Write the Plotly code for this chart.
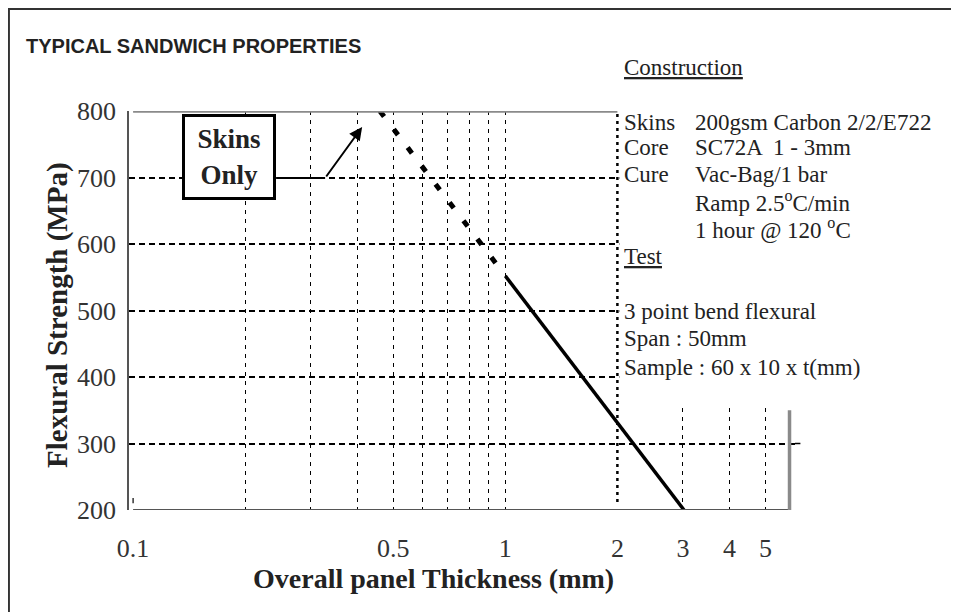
import math
import plotly.graph_objects as go

# ---------------- data ----------------
thickness_dotted = [0.46, 0.97]      # mm (skins only extrapolation)
strength_dotted = [800, 562]         # MPa
thickness_solid = [1.0, 3.02]        # mm
strength_solid = [552, 200]          # MPa

x_tick_vals = [0.1, 0.5, 1, 2, 3, 4, 5]
x_tick_text = ["0.1", "0.5", "1", "2", "3", "4", "5"]
x_grid_vals = [0.2, 0.3, 0.4, 0.5, 0.6, 0.7, 0.8, 0.9, 1, 3, 4, 5, 6]
y_tick_vals = [200, 300, 400, 500, 600, 700, 800]
y_tick_text = ["200", "300", "400", "500", "600", "700", "800"]

construction_labels = ["Skins", "Core", "Cure", "", ""]
construction_values = ["200gsm Carbon 2/2/E722", "SC72A  1 - 3mm", "Vac-Bag/1 bar",
                       "Ramp 2.5<sup>o</sup>C/min", "1 hour @ 120 <sup>o</sup>C"]
test_lines = ["3 point bend flexural", "Span : 50mm", "Sample : 60 x 10 x t(mm)"]

# ---------------- layout geometry (window pixels) ----------------
OFF = 8                      # page body margin offset
W, H = 959 - OFF, 612 - OFF
L, T = 129, 111              # plot-area top-left in window pixels
PW, PH = 665.6, 399
ML, MT = L - OFF, T - OFF
MR = W - ML - PW
MB = H - MT - PH


def px(xp):
    return (xp - L) / PW


def py(yp):
    return (T + PH - yp) / PH


SERIF = "Liberation Serif, Times New Roman, serif"
SANS = "Liberation Sans, Arial, sans-serif"
INK = "#222222"
XRANGE = [math.log10(0.0975), math.log10(6.0)]

fig = go.Figure()
fig.add_trace(go.Scatter(x=thickness_dotted, y=strength_dotted, mode="lines",
                         line=dict(color="black", width=5, dash="7px,16px"),
                         showlegend=False, hoverinfo="skip"))
fig.add_trace(go.Scatter(x=thickness_solid, y=strength_solid, mode="lines",
                         line=dict(color="black", width=3.5),
                         showlegend=False, hoverinfo="skip", cliponaxis=False))
# invisible companion trace so the grid-only overlay axis is drawn
fig.add_trace(go.Scatter(x=thickness_solid, y=strength_solid, xaxis="x2", yaxis="y",
                         mode="markers", marker=dict(opacity=0, size=1),
                         showlegend=False, hoverinfo="skip"))

shapes = []
# cover for the text block (upper right)
shapes.append(dict(type="rect", xref="paper", yref="paper", x0=px(619), x1=px(951),
                   y0=py(405), y1=py(9), fillcolor="white", line=dict(width=0), layer="above"))
# top grey border of plot
shapes.append(dict(type="line", xref="x", yref="y", x0=0.1, x1=2.0, y0=800, y1=800,
                   line=dict(color="#8a8a8a", width=3.5), layer="above"))
# thick dotted line at x=2
shapes.append(dict(type="line", xref="x", yref="y", x0=2.0, x1=2.0, y0=212, y1=800,
                   line=dict(color="black", width=2.5, dash="3px,4px"), layer="above"))
# small tick at x=0.1 near the bottom
shapes.append(dict(type="line", xref="x", yref="y", x0=0.1, x1=0.1, y0=210, y1=218,
                   line=dict(color="black", width=1.2), layer="above"))
# bottom axis line
shapes.append(dict(type="line", xref="x", yref="y", x0=0.1, x1=5.8, y0=200, y1=200,
                   line=dict(color="#555555", width=2), layer="above"))
# right grey line
shapes.append(dict(type="line", xref="x", yref="y", x0=5.8, x1=5.8, y0=197, y1=350,
                   line=dict(color="#8a8a8a", width=3.5), layer="above"))
# 300 gridline extension
shapes.append(dict(type="line", xref="paper", yref="y", x0=1.0, x1=px(800), y0=300, y1=300,
                   line=dict(color="black", width=1.5, dash="6px,4px"), layer="above"))
# skins-only leader segment
shapes.append(dict(type="line", xref="paper", yref="paper", x0=px(276), x1=px(325),
                   y0=py(178), y1=py(178), line=dict(color="black", width=2), layer="above"))
# outer frame
shapes.append(dict(type="rect", xref="paper", yref="paper", x0=px(9), x1=px(955),
                   y0=py(620), y1=py(9), line=dict(color="#333333", width=2),
                   fillcolor="rgba(0,0,0,0)", layer="above"))

ann = []
ann.append(dict(xref="paper", yref="paper", x=px(24), y=py(46), xanchor="left", yanchor="middle",
                text="<b>TYPICAL SANDWICH PROPERTIES</b>", showarrow=False,
                font=dict(family=SANS, size=20, color=INK)))
# axis titles
ann.append(dict(xref="paper", yref="paper", x=px(433), y=py(578), xanchor="center", yanchor="middle",
                text="<b>Overall panel Thickness (mm)</b>", showarrow=False,
                font=dict(family=SERIF, size=28, color=INK)))
ann.append(dict(xref="paper", yref="paper", x=px(57), y=py(315), xanchor="center", yanchor="middle",
                text="<b>Flexural Strength (MPa)</b>", showarrow=False, textangle=-90,
                font=dict(family=SERIF, size=29, color=INK)))
# skins only box
ann.append(dict(xref="paper", yref="paper", x=px(229), y=py(157), xanchor="center", yanchor="middle",
                text="<b>Skins<br>Only</b>", showarrow=False, bgcolor="white",
                bordercolor="black", borderwidth=3, width=86, height=78,
                font=dict(family=SERIF, size=27, color=INK)))
ann.append(dict(xref="paper", yref="paper", x=px(362), y=py(127), ax=-37, ay=51,
                text="", showarrow=True, arrowhead=2, arrowsize=1.3, arrowwidth=2,
                arrowcolor="black"))

# construction block
TXT = 23
ann.append(dict(xref="paper", yref="paper", x=px(622), y=py(67), xanchor="left", yanchor="middle",
                text="<u>Construction</u>", showarrow=False,
                font=dict(family=SERIF, size=TXT, color=INK)))
rows_y = [122, 147, 174, 201, 228]
for lab, val, yy in zip(construction_labels, construction_values, rows_y):
    if lab:
        ann.append(dict(xref="paper", yref="paper", x=px(622), y=py(yy), xanchor="left",
                        yanchor="middle", text=lab, showarrow=False,
                        font=dict(family=SERIF, size=TXT, color=INK)))
    ann.append(dict(xref="paper", yref="paper", x=px(693), y=py(yy), xanchor="left",
                    yanchor="middle", text=val, showarrow=False,
                    font=dict(family=SERIF, size=TXT, color=INK)))
ann.append(dict(xref="paper", yref="paper", x=px(622), y=py(256), xanchor="left", yanchor="middle",
                text="<u>Test</u>", showarrow=False,
                font=dict(family=SERIF, size=TXT, color=INK)))
for line, yy in zip(test_lines, [311, 338, 367]):
    ann.append(dict(xref="paper", yref="paper", x=px(622), y=py(yy), xanchor="left",
                    yanchor="middle", text=line, showarrow=False,
                    font=dict(family=SERIF, size=TXT, color=INK)))

fig.update_layout(
    width=W, height=H,
    margin=dict(l=ML, r=MR, t=MT, b=MB, pad=0),
    paper_bgcolor="white", plot_bgcolor="white",
    showlegend=False,
    shapes=shapes, annotations=ann,
    xaxis=dict(type="log", range=XRANGE,
               tickmode="array", tickvals=x_tick_vals, ticktext=x_tick_text,
               ticks="", showline=False, zeroline=False, automargin=False, showgrid=False,
               ticklabelstandoff=20,
               tickfont=dict(family=SERIF, size=26, color="#333333")),
    xaxis2=dict(type="log", range=XRANGE, overlaying="x", anchor="y", side="bottom",
                tickmode="array", tickvals=x_grid_vals, showticklabels=False, ticks="",
                showline=False, zeroline=False, automargin=False,
                showgrid=True, gridcolor="black", gridwidth=1.2, griddash="4px,5px"),
    yaxis=dict(range=[200, 800], tickmode="array", tickvals=y_tick_vals, ticktext=y_tick_text,
               ticks="", showline=True, linecolor="#555555", linewidth=1.5, zeroline=False,
               automargin=False,
               showgrid=True, gridcolor="black", gridwidth=1.5, griddash="6px,4px",
               ticklabelstandoff=6,
               tickfont=dict(family=SERIF, size=26, color="#333333")),
)

fig.write_html("out.html")
